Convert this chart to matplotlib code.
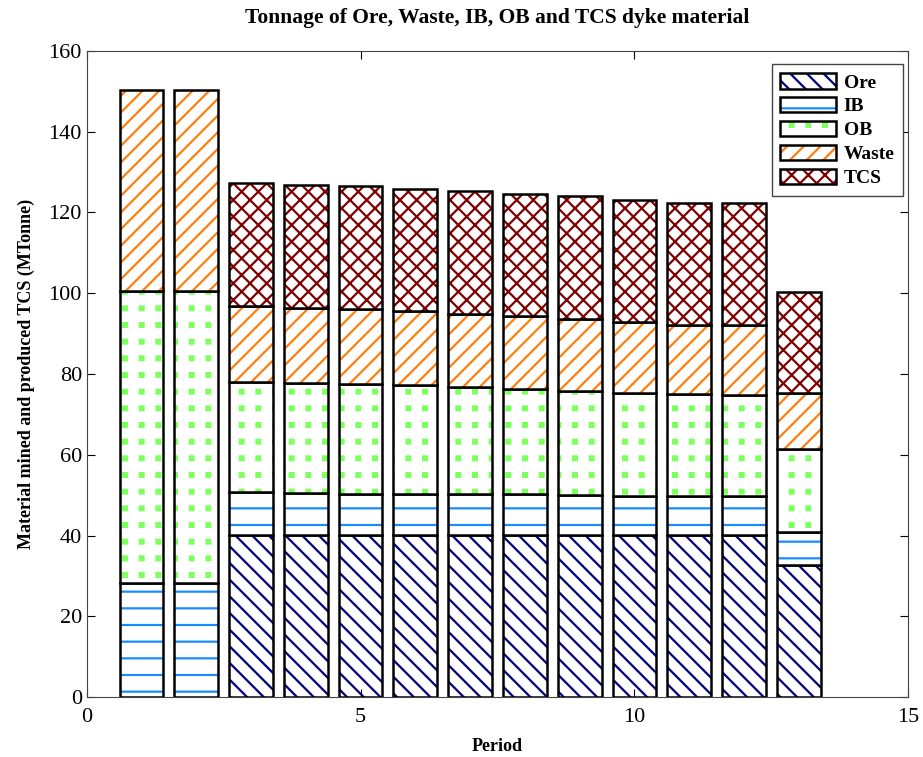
import numpy as np
import matplotlib.pyplot as plt
import matplotlib.hatch as mhatch
from matplotlib.path import Path
from matplotlib.patches import Patch

plt.rcParams['font.family'] = ['Liberation Serif', 'DejaVu Serif']
plt.rcParams['hatch.linewidth'] = 1.6


# square dot grid (not staggered) for the '.' hatch
class SquareDots(mhatch.HatchPatternBase):
    def __init__(self, hatch, density):
        self.n = hatch.count('.') * density
        self.num_vertices = self.n * self.n * 5
        self.half = 0.019

    def set_vertices_and_codes(self, vertices, codes):
        k = 0
        for i in range(self.n):
            for j in range(self.n):
                cx = (i + 0.5) / self.n
                cy = (j + 0.5) / self.n
                h = self.half
                vertices[k:k + 5] = [(cx - h, cy - h), (cx + h, cy - h),
                                     (cx + h, cy + h), (cx - h, cy + h),
                                     (cx - h, cy - h)]
                codes[k:k + 5] = [Path.MOVETO, Path.LINETO, Path.LINETO,
                                  Path.LINETO, Path.CLOSEPOLY]
                k += 5


mhatch._hatch_types = [t for t in mhatch._hatch_types
                       if t is not mhatch.SmallFilledCircles] + [SquareDots]

periods = np.arange(1, 14)
# stack tops per period, turned into layer tonnages below (MTonne)
ore = np.array([0, 0, 40.1, 40.1, 40.1, 40.1, 40.1, 40.1, 40.1, 40.1, 40.1, 40.1, 32.7])
ib_top = np.array([28.2, 28.2, 50.7, 50.6, 50.4, 50.4, 50.2, 50.2, 50.0, 49.8, 49.7, 49.7, 40.9])
ob_top = np.array([100.6, 100.6, 78.0, 77.8, 77.6, 77.2, 76.7, 76.3, 75.8, 75.4, 75.1, 74.9, 61.4])
waste_top = np.array([150.2, 150.2, 96.9, 96.4, 96.0, 95.5, 94.9, 94.3, 93.6, 92.9, 92.2, 92.1, 75.4])
tcs_top = np.array([150.2, 150.2, 127.2, 126.8, 126.5, 125.8, 125.2, 124.6, 124.0, 123.1, 122.4, 122.2, 100.3])

ib = ib_top - ore
ob = ob_top - ib_top
waste = waste_top - ob_top
tcs = tcs_top - waste_top

layers = ['Ore', 'IB', 'OB', 'Waste', 'TCS']
values = [ore, ib, ob, waste, tcs]
hatches = ['\\\\', '-', '.', '//', 'xx']
colors = ['#000080', '#1a8cff', '#80ff60', '#ff7f0e', '#800000']

fig = plt.figure(figsize=(9.23, 7.57), dpi=100)
ax = fig.add_axes([0.094, 0.079, 0.89, 0.854])

bottom = np.zeros(len(periods))
handles = []
for name, vals, h, c in zip(layers, values, hatches, colors):
    mask = vals > 0
    ax.bar(periods[mask], vals[mask], 0.8, bottom=bottom[mask], color='white',
           edgecolor=c, hatch=h, linewidth=0)
    ax.bar(periods[mask], vals[mask], 0.8, bottom=bottom[mask], fill=False,
           edgecolor='black', linewidth=1.8)
    bottom = bottom + vals
    handles.append((Patch(facecolor='white', edgecolor=c, hatch=h, linewidth=0),
                    Patch(fill=False, edgecolor='black', linewidth=1.8)))

ax.set_xlim(0, 15)
ax.set_ylim(0, 160)
ax.set_xticks([0, 5, 10, 15])
ax.set_yticks(np.arange(0, 161, 20))
ax.tick_params(direction='in', top=True, right=True, labelsize=16, length=6)
ax.tick_params(axis='x', pad=8)
for s in ax.spines.values():
    s.set_color('#444444')

ax.set_title('Tonnage of Ore, Waste, IB, OB and TCS dyke material',
             fontsize=15.5, fontweight='bold', pad=20)
ax.set_xlabel('Period', fontsize=13, fontweight='bold', labelpad=8)
ax.set_ylabel('Material mined and produced TCS (MTonne)', fontsize=13,
              fontweight='bold', labelpad=10)

leg = ax.legend(handles, layers, loc='upper right',
                bbox_to_anchor=(0.994, 0.979), borderaxespad=0,
                handlelength=2.85, handleheight=0.85, labelspacing=0.28,
                borderpad=0.45, handletextpad=0.4, fancybox=False,
                edgecolor='#444444', framealpha=1,
                prop={'weight': 'bold', 'size': 14})
leg.get_frame().set_linewidth(1.0)

fig.savefig('out.png', dpi=100)
